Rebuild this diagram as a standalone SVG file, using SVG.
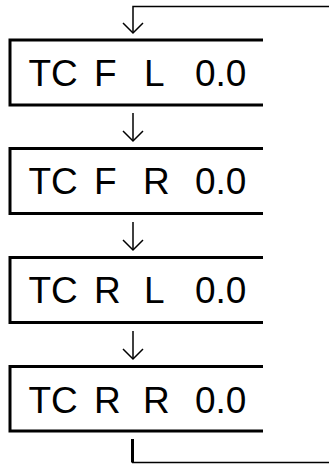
<svg xmlns="http://www.w3.org/2000/svg" width="329" height="464" viewBox="0 0 329 464">
<style>
.box{fill:none;stroke:#000;stroke-width:3}
.t{font-family:"Liberation Sans",Arial,sans-serif;font-size:37px;fill:#000}
.c{fill:none;stroke:#000;stroke-width:1.5}
.th{fill:none;stroke:#000;stroke-width:3}
</style>
<rect width="329" height="464" fill="#fff"/>
<g id="connectors">
<polyline class="c" points="329,6.5 133,6.5 133,33"/>
<polyline class="c" points="123,23 133,33 143,23"/>
<line class="c" x1="133" y1="113" x2="133" y2="141"/>
<polyline class="c" points="123,131 133,141 143,131"/>
<line class="c" x1="133" y1="222" x2="133" y2="250"/>
<polyline class="c" points="123,240 133,250 143,240"/>
<line class="c" x1="133" y1="331" x2="133" y2="359"/>
<polyline class="c" points="123,349 133,359 143,349"/>
<line class="th" x1="132.5" y1="439" x2="132.5" y2="462.5"/>
<line class="c" x1="132" y1="462.5" x2="329" y2="462.5"/>
</g>
<g id="node1">
<polyline class="box" points="263,40 10,40 10,105 263,105"/>
<text class="t" x="28.5" y="85.5">TC</text><text class="t" x="94" y="85.5">F</text><text class="t" x="144" y="85.5">L</text><text class="t" x="195" y="85.5">0.0</text>
</g>
<g id="node2">
<polyline class="box" points="263,148.5 10,148.5 10,213.5 263,213.5"/>
<text class="t" x="28.5" y="194">TC</text><text class="t" x="94" y="194">F</text><text class="t" x="143" y="194">R</text><text class="t" x="195" y="194">0.0</text>
</g>
<g id="node3">
<polyline class="box" points="263,257.5 10,257.5 10,322.5 263,322.5"/>
<text class="t" x="28.5" y="303">TC</text><text class="t" x="94" y="303">R</text><text class="t" x="144" y="303">L</text><text class="t" x="195" y="303">0.0</text>
</g>
<g id="node4">
<polyline class="box" points="263,366.5 10,366.5 10,431 263,431"/>
<text class="t" x="28.5" y="412.5">TC</text><text class="t" x="94" y="412.5">R</text><text class="t" x="143" y="412.5">R</text><text class="t" x="195" y="412.5">0.0</text>
</g>
</svg>
